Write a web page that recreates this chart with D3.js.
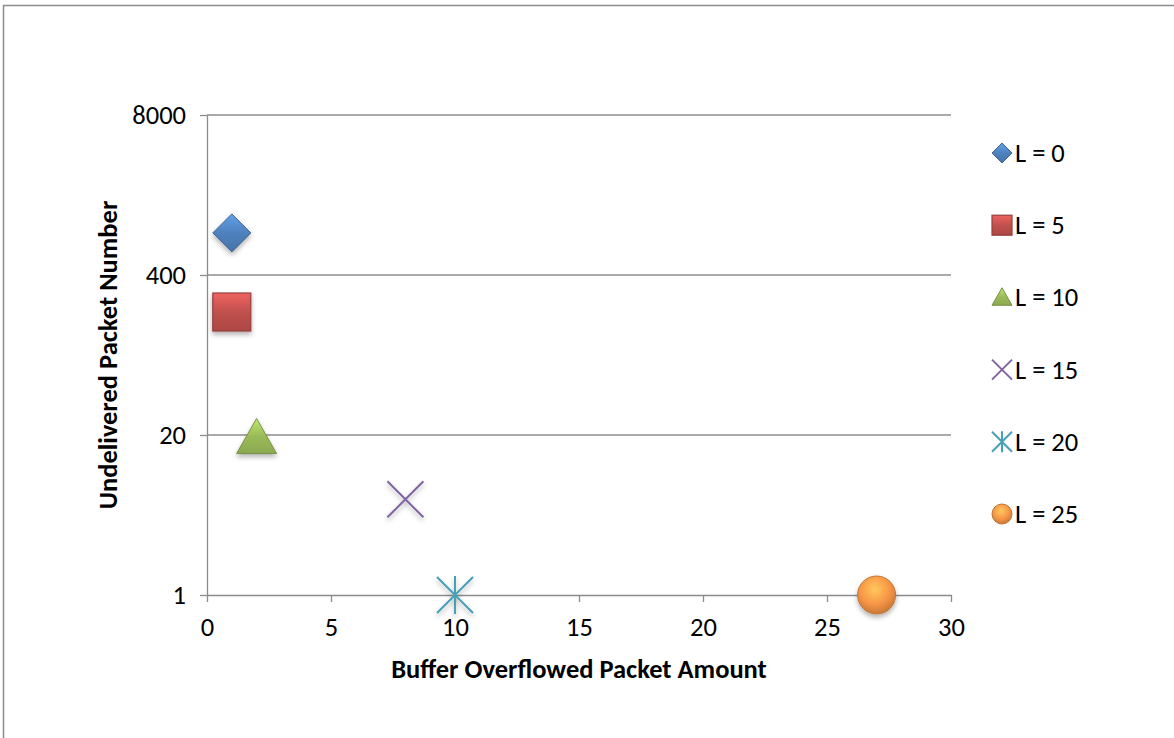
<!DOCTYPE html>
<html>
<head>
<meta charset="utf-8">
<script src="https://cdn.jsdelivr.net/npm/d3@7"></script>
<style>
  body { margin: 0; background: #fff; }
  text { font-family: Carlito, "Open Sans", "Liberation Sans", sans-serif; }
</style>
</head>
<body>
<div id="chart"></div>
<script>
var seriesNames = ["L = 0", "L = 5", "L = 10", "L = 15", "L = 20", "L = 25"];
var xValues = [1, 1, 2, 8, 10, 27];
var yValues = [880, 200, 19, 6, 1, 1];
var shapes = ["diamond", "square", "triangle", "x", "star", "circle"];
var colors = ["#4F81BD", "#C0504D", "#9BBB59", "#8064A2", "#4BACC6", "#F79646"];
var xTicks = [0, 5, 10, 15, 20, 25, 30];
var yTicks = [1, 20, 400, 8000];

var W = 1174, H = 738;
var margin = {top: 115, right: 223, bottom: 143, left: 207};
var width = W - margin.left - margin.right,
    height = H - margin.top - margin.bottom;
var fs = 26.5;

var svg = d3.select("#chart").append("svg")
    .attr("width", W)
    .attr("height", H);

// outer frame
svg.append("rect")
    .attr("x", 3.5).attr("y", 5.5)
    .attr("width", W + 10).attr("height", H + 10)
    .attr("fill", "none").attr("stroke", "#8c8c8c").attr("stroke-width", 1.5);

var defs = svg.append("defs");
var shadow = defs.append("filter").attr("id", "shadow")
    .attr("x", "-50%").attr("y", "-50%").attr("width", "200%").attr("height", "200%");
shadow.append("feDropShadow").attr("dx", 0).attr("dy", 3).attr("stdDeviation", 2.5)
    .attr("flood-color", "#000").attr("flood-opacity", 0.3);

colors.forEach(function(c, i) {
    var lighter = d3.color(c).brighter(0.6), darker = d3.color(c).darker(0.6);
    if (shapes[i] == "circle") {
        var rg = defs.append("radialGradient").attr("id", "grad" + i)
            .attr("cx", "45%").attr("cy", "35%").attr("r", "65%");
        rg.append("stop").attr("offset", "0%").attr("stop-color", d3.color(c).brighter(0.8));
        rg.append("stop").attr("offset", "60%").attr("stop-color", c);
        rg.append("stop").attr("offset", "100%").attr("stop-color", darker);
    } else {
        var lg = defs.append("linearGradient").attr("id", "grad" + i)
            .attr("x1", 0).attr("y1", 0).attr("x2", 0).attr("y2", 1);
        lg.append("stop").attr("offset", "0%").attr("stop-color", lighter);
        lg.append("stop").attr("offset", "50%").attr("stop-color", c);
        lg.append("stop").attr("offset", "100%").attr("stop-color", d3.color(c).darker(0.3));
    }
});

var g = svg.append("g")
    .attr("transform", "translate(" + margin.left + "," + margin.top + ")");

var x = d3.scaleLinear().domain([0, 30]).range([0, width]);
var y = d3.scaleLog().base(20).domain([1, 8000]).range([height, 0]);

// gridlines
g.append("g").selectAll("line")
    .data(yTicks.slice(1))
    .enter().append("line")
    .attr("x1", 0).attr("x2", width)
    .attr("y1", function(d) { return y(d); })
    .attr("y2", function(d) { return y(d); })
    .attr("stroke", "#8c8c8c").attr("stroke-width", 1.3);

// X axis
var xAxis = g.append("g")
    .attr("transform", "translate(0," + height + ")")
    .call(d3.axisBottom(x).tickValues(xTicks).tickSize(7).tickSizeOuter(0).tickPadding(15));

// Y axis
var yAxis = g.append("g")
    .call(d3.axisLeft(y).tickValues(yTicks).tickFormat(d3.format("d")).tickSize(7).tickSizeOuter(0).tickPadding(14));

[xAxis, yAxis].forEach(function(a) {
    a.selectAll("path, line").attr("stroke", "#8c8c8c").attr("stroke-width", 1.3);
    a.selectAll("text").attr("font-size", fs).attr("fill", "#000")
        .style("font-family", 'Carlito, "Open Sans", "Liberation Sans", sans-serif');
});
xAxis.selectAll(".tick line").attr("y1", -0).attr("y2", 7);

// axis titles
g.append("text")
    .attr("x", width / 2).attr("y", height + 83)
    .attr("text-anchor", "middle")
    .attr("font-size", fs).attr("font-weight", "bold")
    .text("Buffer Overflowed Packet Amount");

g.append("text")
    .attr("transform", "translate(-90," + (height / 2) + ") rotate(-90)")
    .attr("text-anchor", "middle")
    .attr("font-size", fs).attr("font-weight", "bold")
    .text("Undelivered Packet Number");

// draw a marker of given shape at (0,0) inside selection, size s = half width
function drawMarker(sel, i, s, legend) {
    var c = colors[i];
    var stroke = d3.color(c).darker(0.7);
    var sh = shapes[i];
    if (sh == "diamond") {
        sel.append("path").attr("d", "M0," + (-s) + "L" + s + ",0L0," + s + "L" + (-s) + ",0Z")
            .attr("fill", "url(#grad" + i + ")").attr("stroke", stroke).attr("stroke-width", 1);
    } else if (sh == "square") {
        sel.append("rect").attr("x", -s).attr("y", -s).attr("width", 2 * s).attr("height", 2 * s)
            .attr("fill", "url(#grad" + i + ")").attr("stroke", stroke).attr("stroke-width", 1.2);
    } else if (sh == "triangle") {
        var h = s * 1.75;
        sel.append("path").attr("d", "M0," + (-h * 0.55) + "L" + s + "," + (h * 0.45) + "L" + (-s) + "," + (h * 0.45) + "Z")
            .attr("fill", "url(#grad" + i + ")").attr("stroke", stroke).attr("stroke-width", 1);
    } else if (sh == "x") {
        sel.append("path").attr("d", "M" + (-s) + "," + (-s) + "L" + s + "," + s + "M" + s + "," + (-s) + "L" + (-s) + "," + s)
            .attr("stroke", c).attr("stroke-width", 2).attr("fill", "none");
    } else if (sh == "star") {
        sel.append("path").attr("d", "M" + (-s) + "," + (-s) + "L" + s + "," + s + "M" + s + "," + (-s) + "L" + (-s) + "," + s +
                "M0," + (-s * 1.05) + "L0," + (s * 1.05))
            .attr("stroke", d3.color(c).darker(0.2)).attr("stroke-width", 2).attr("fill", "none");
    } else {
        sel.append("circle").attr("r", s)
            .attr("fill", "url(#grad" + i + ")").attr("stroke", stroke).attr("stroke-width", 1);
    }
}

var sizes = [19, 19, 20, 18, 18, 19];

// points
var pts = g.selectAll(".pt")
    .data(seriesNames)
    .enter().append("g")
    .attr("class", "pt")
    .attr("filter", "url(#shadow)")
    .attr("transform", function(d, i) { return "translate(" + x(xValues[i]) + "," + y(yValues[i]) + ")"; });
pts.each(function(d, i) { drawMarker(d3.select(this), i, sizes[i], false); });

// legend
var legend = svg.append("g").attr("transform", "translate(1002,153)");
var items = legend.selectAll(".leg")
    .data(seriesNames)
    .enter().append("g")
    .attr("class", "leg")
    .attr("transform", function(d, i) { return "translate(0," + (i * 72.2) + ")"; });
items.each(function(d, i) { drawMarker(d3.select(this), i, 10, true); });
items.append("text")
    .attr("x", 13).attr("y", 9)
    .attr("font-size", fs)
    .text(function(d) { return d; });
</script>
</body>
</html>
